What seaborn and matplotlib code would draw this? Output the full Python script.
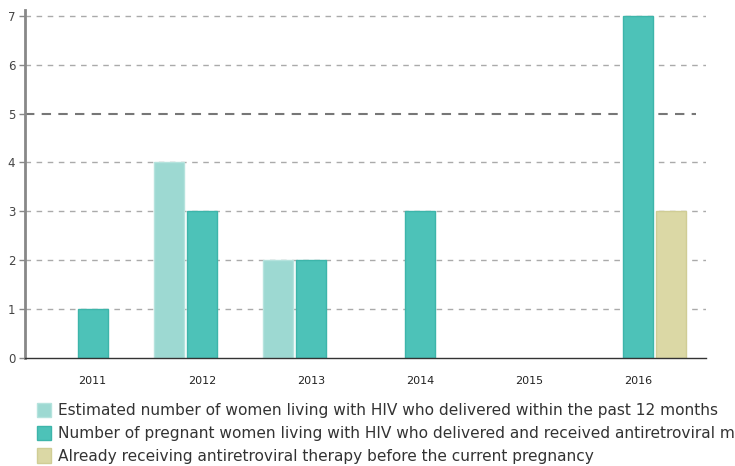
import matplotlib
matplotlib.use("Agg")
import matplotlib.pyplot as plt
import seaborn as sns
import pandas as pd
import numpy as np
from matplotlib.patches import Patch

years = ["2011", "2012", "2013", "2014", "2015", "2016"]
series_names = [
    "Estimated number of women living with HIV who delivered within the past 12 months",
    "Number of pregnant women living with HIV who delivered and received antiretroviral medicines",
    "Already receiving antiretroviral therapy before the current pregnancy",
]
estimated = [np.nan, 4, 2, np.nan, np.nan, np.nan]
received_arv = [1, 3, 2, 3, np.nan, 7]
already_on_art = [np.nan, np.nan, np.nan, np.nan, np.nan, 3]
colors = ["#9dd9d2", "#4dc2b8", "#dbd8a5"]
edge_colors = ["#b5e3dd", "#3db5aa", "#d0cd95"]
target_line = 5

rows = []
for name, vals in zip(series_names, [estimated, received_arv, already_on_art]):
    for y, v in zip(years, vals):
        rows.append({"year": y, "series": name, "value": v})
df = pd.DataFrame(rows)

sns.set_style("white")
plt.rcParams["font.family"] = ["DejaVu Sans"]

fig = plt.figure(figsize=(7.35, 4.66), dpi=100)
ax = fig.add_axes([0.034, 0.2318, 0.9265, 0.7467])

sns.barplot(data=df, x="year", y="value", hue="series", order=years,
            hue_order=series_names, palette=colors, width=0.9, gap=0.08,
            ax=ax, legend=False, saturation=1, linewidth=1)
for i, cont in enumerate(ax.containers):
    for p in cont:
        p.set_edgecolor(edge_colors[i])

ax.set_ylim(0, 7.12)
ax.set_xlim(-0.62, 5.62)
ax.set_yticks(range(0, 8))
for v in range(1, 8):
    if v == target_line:
        continue
    ax.axhline(v, color="#aaaaaa", linestyle=(0, (4, 4)), linewidth=1, zorder=0)
ax.plot([-0.62, 5.53], [target_line, target_line], color="#777777",
        linestyle=(0, (4.5, 3.5)), linewidth=1.5, zorder=0.5)

ax.set_xlabel("")
ax.set_ylabel("")
for s in ["top", "right"]:
    ax.spines[s].set_visible(False)
ax.spines["left"].set_color("#888888")
ax.spines["left"].set_linewidth(2)
ax.spines["bottom"].set_color("#333333")
ax.spines["bottom"].set_linewidth(1)
ax.tick_params(axis="y", length=4, width=1, color="#888888", labelsize=8.5,
               labelcolor="#444444", pad=3, left=True)
ax.tick_params(axis="x", length=0, labelsize=8, labelcolor="#222222", pad=13)

handles = [Patch(facecolor=c, edgecolor=e) for c, e in zip(colors, edge_colors)]
fig.legend(handles, series_names, loc="upper left", bbox_to_anchor=(0.05, 0.136),
           frameon=False, fontsize=11.1, handlelength=0.95, handleheight=1.1,
           handletextpad=0.45, labelspacing=0.47, borderaxespad=0, borderpad=0,
           labelcolor="#333333")

fig.savefig("out.png", dpi=100)
